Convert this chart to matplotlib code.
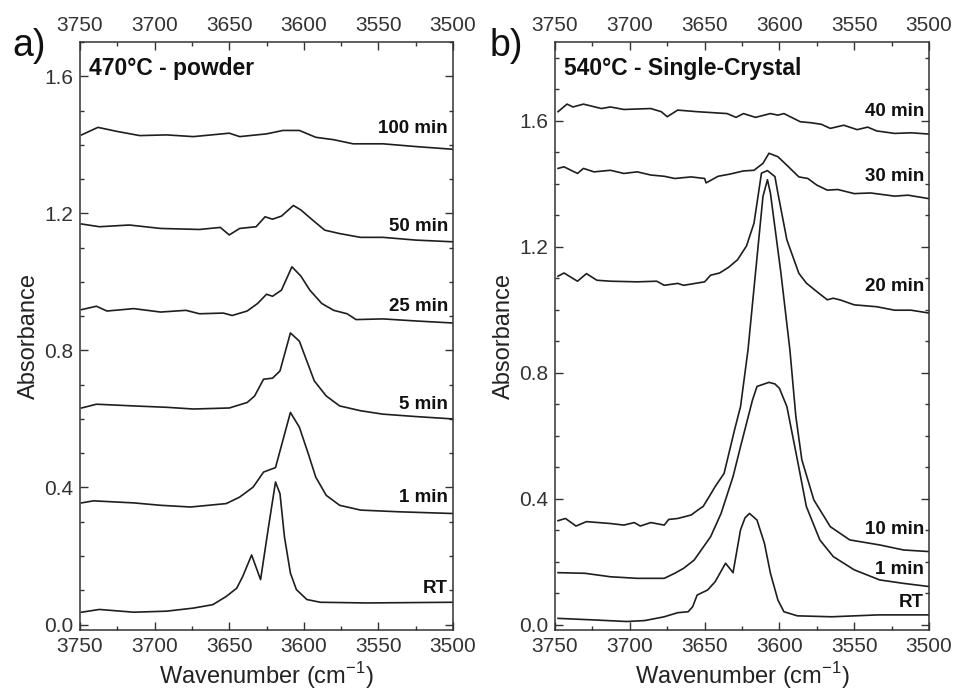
import matplotlib
matplotlib.use("Agg")
import matplotlib.pyplot as plt
from matplotlib.ticker import MultipleLocator

plt.rcParams["font.family"] = ["Liberation Sans", "DejaVu Sans"]
plt.rcParams["mathtext.fontset"] = "custom"
plt.rcParams["mathtext.rm"] = "Liberation Sans"

# ---- panel a) 470 C powder ----
a_100_x = [3749, 3738, 3725, 3710, 3692, 3674, 3650, 3643, 3625, 3614, 3603, 3592, 3580, 3567, 3547, 3525, 3500]
a_100_y = [1.429, 1.451, 1.439, 1.427, 1.429, 1.424, 1.434, 1.424, 1.432, 1.442, 1.442, 1.422, 1.415, 1.403, 1.403, 1.395, 1.387]

a_50_x = [3749, 3737, 3717, 3696, 3670, 3656, 3650, 3643, 3632, 3626, 3621, 3615, 3607, 3602, 3594, 3586, 3576, 3562, 3547, 3525, 3500]
a_50_y = [1.169, 1.161, 1.166, 1.156, 1.153, 1.159, 1.137, 1.156, 1.161, 1.190, 1.183, 1.192, 1.223, 1.210, 1.180, 1.151, 1.141, 1.130, 1.130, 1.122, 1.117]

a_25_x = [3749, 3739, 3732, 3714, 3696, 3679, 3670, 3654, 3648, 3638, 3631, 3625, 3621, 3615, 3608, 3602, 3596, 3588, 3580, 3571, 3565, 3547, 3525, 3500]
a_25_y = [0.919, 0.929, 0.915, 0.922, 0.912, 0.917, 0.907, 0.909, 0.902, 0.915, 0.937, 0.964, 0.958, 0.976, 1.044, 1.017, 0.976, 0.937, 0.917, 0.907, 0.890, 0.892, 0.886, 0.880]

a_5_x = [3749, 3739, 3714, 3692, 3674, 3650, 3638, 3633, 3627, 3621, 3616, 3609, 3603, 3598, 3593, 3585, 3576, 3562, 3547, 3525, 3500]
a_5_y = [0.632, 0.643, 0.638, 0.634, 0.629, 0.632, 0.648, 0.667, 0.716, 0.719, 0.740, 0.851, 0.827, 0.769, 0.711, 0.667, 0.638, 0.624, 0.614, 0.607, 0.600]

a_1_x = [3749, 3741, 3714, 3696, 3676, 3652, 3643, 3634, 3627, 3619, 3609, 3603, 3597, 3592, 3585, 3576, 3562, 3536, 3500]
a_1_y = [0.355, 0.361, 0.355, 0.348, 0.343, 0.353, 0.372, 0.401, 0.445, 0.458, 0.619, 0.576, 0.498, 0.430, 0.377, 0.348, 0.334, 0.329, 0.324]

a_rt_x = [3749, 3737, 3714, 3692, 3674, 3661, 3652, 3645, 3641, 3635, 3629, 3624, 3619, 3616, 3613, 3609, 3605, 3598, 3589, 3558, 3500]
a_rt_y = [0.036, 0.044, 0.036, 0.039, 0.048, 0.058, 0.082, 0.106, 0.140, 0.203, 0.131, 0.276, 0.416, 0.382, 0.256, 0.150, 0.102, 0.073, 0.065, 0.063, 0.065]

# ---- panel b) 540 C single crystal ----
b_40_x = [3748, 3742, 3738, 3731, 3719, 3713, 3704, 3686, 3679, 3675, 3668, 3655, 3635, 3629, 3624, 3616, 3606, 3601, 3597, 3586, 3579, 3572, 3566, 3557, 3548, 3541, 3535, 3523, 3512, 3500]
b_40_y = [1.629, 1.653, 1.644, 1.653, 1.639, 1.644, 1.636, 1.639, 1.629, 1.613, 1.634, 1.629, 1.623, 1.611, 1.623, 1.611, 1.623, 1.618, 1.623, 1.597, 1.594, 1.589, 1.576, 1.586, 1.572, 1.580, 1.568, 1.560, 1.562, 1.558]

b_30_x = [3748, 3744, 3735, 3731, 3724, 3713, 3704, 3695, 3686, 3677, 3670, 3659, 3650, 3649, 3641, 3633, 3624, 3617, 3611, 3607, 3601, 3595, 3587, 3581, 3575, 3568, 3561, 3550, 3539, 3523, 3514, 3500]
b_30_y = [1.449, 1.454, 1.433, 1.449, 1.438, 1.443, 1.433, 1.438, 1.428, 1.424, 1.417, 1.422, 1.417, 1.403, 1.424, 1.431, 1.441, 1.443, 1.465, 1.497, 1.486, 1.459, 1.422, 1.417, 1.396, 1.380, 1.382, 1.369, 1.371, 1.361, 1.364, 1.353]

b_20_x = [3748, 3744, 3735, 3729, 3722, 3713, 3695, 3682, 3677, 3668, 3664, 3650, 3646, 3640, 3634, 3628, 3622, 3617, 3612, 3608, 3603, 3601, 3595, 3587, 3582, 3575, 3568, 3564, 3559, 3550, 3535, 3523, 3512, 3500]
b_20_y = [1.107, 1.117, 1.091, 1.115, 1.094, 1.091, 1.089, 1.091, 1.078, 1.084, 1.078, 1.089, 1.110, 1.117, 1.135, 1.159, 1.203, 1.275, 1.434, 1.442, 1.423, 1.370, 1.222, 1.116, 1.085, 1.058, 1.032, 1.037, 1.031, 1.016, 1.010, 0.999, 0.999, 0.990]

b_10_x = [3748, 3743, 3736, 3729, 3713, 3704, 3697, 3693, 3686, 3677, 3674, 3668, 3659, 3653, 3651, 3647, 3643, 3637, 3630, 3626, 3621, 3616, 3611, 3608, 3606, 3599, 3593, 3589, 3585, 3577, 3566, 3553, 3533, 3517, 3500]
b_10_y = [0.331, 0.338, 0.314, 0.328, 0.322, 0.317, 0.325, 0.314, 0.325, 0.317, 0.335, 0.338, 0.349, 0.370, 0.376, 0.407, 0.439, 0.481, 0.619, 0.693, 0.873, 1.117, 1.360, 1.413, 1.370, 1.117, 0.873, 0.661, 0.524, 0.397, 0.312, 0.270, 0.254, 0.238, 0.233]

b_1_x = [3748, 3730, 3713, 3695, 3677, 3670, 3664, 3657, 3653, 3646, 3639, 3631, 3626, 3622, 3618, 3615, 3607, 3603, 3600, 3595, 3588, 3582, 3573, 3564, 3550, 3533, 3517, 3500]
b_1_y = [0.166, 0.164, 0.153, 0.148, 0.148, 0.164, 0.180, 0.206, 0.233, 0.280, 0.354, 0.471, 0.566, 0.640, 0.714, 0.757, 0.770, 0.765, 0.751, 0.693, 0.524, 0.376, 0.270, 0.217, 0.175, 0.143, 0.132, 0.122]

b_rt_x = [3748, 3724, 3702, 3690, 3677, 3668, 3661, 3658, 3655, 3648, 3643, 3636, 3631, 3626, 3623, 3620, 3615, 3610, 3606, 3601, 3597, 3588, 3565, 3534, 3500]
b_rt_y = [0.021, 0.016, 0.011, 0.014, 0.026, 0.039, 0.042, 0.058, 0.095, 0.111, 0.137, 0.196, 0.166, 0.302, 0.340, 0.354, 0.333, 0.259, 0.164, 0.079, 0.042, 0.029, 0.026, 0.032, 0.032]

a_curves = [
    (a_100_x, a_100_y, "100 min", 1.449),
    (a_50_x, a_50_y, "50 min", 1.161),
    (a_25_x, a_25_y, "25 min", 0.927),
    (a_5_x, a_5_y, "5 min", 0.643),
    (a_1_x, a_1_y, "1 min", 0.372),
    (a_rt_x, a_rt_y, "RT", 0.106),
]
b_curves = [
    (b_40_x, b_40_y, "40 min", 1.631),
    (b_30_x, b_30_y, "30 min", 1.422),
    (b_20_x, b_20_y, "20 min", 1.073),
    (b_10_x, b_10_y, "10 min", 0.303),
    (b_1_x, b_1_y, "1 min", 0.177),
    (b_rt_x, b_rt_y, "RT", 0.071),
]

LINE = "#1e1e1e"
GRAY = "#333333"

fig = plt.figure(figsize=(9.54, 6.95), dpi=100)
ax_a = fig.add_axes([0.0839, 0.0935, 0.391, 0.846])
ax_b = fig.add_axes([0.5818, 0.0935, 0.392, 0.846])


def montar_painel(ax, curvas, titulo, letra, ymax, letra_x):
    for x, y, rotulo, y_rot in curvas:
        ax.plot(x, y, color=LINE, linewidth=1.2)
        ax.text(3503.5, y_rot, rotulo, ha="right", va="center",
                fontsize=13.5, fontweight="bold", color="#111111")

    ax.set_xlim(3750, 3500)
    ax.set_ylim(-0.016, ymax)

    ax.xaxis.set_major_locator(MultipleLocator(50))
    ax.xaxis.set_minor_locator(MultipleLocator(25))
    ax.yaxis.set_major_locator(MultipleLocator(0.4))
    ax.yaxis.set_minor_locator(MultipleLocator(0.1))
    ax.yaxis.set_major_formatter(plt.FuncFormatter(lambda v, p: f"{v:.1f}"))

    ax.tick_params(which="both", direction="in", top=True, right=True,
                   labeltop=True, labelsize=15, colors=GRAY, pad=5)
    ax.tick_params(which="major", length=6, width=1)
    ax.tick_params(which="minor", length=3, width=1)

    for sp in ax.spines.values():
        sp.set_color(GRAY)
        sp.set_linewidth(1.1)

    ax.set_xlabel("Wavenumber (cm$^{-1}$)", fontsize=17, color="#222222", labelpad=3)
    ax.set_ylabel("Absorbance", fontsize=17, color="#222222", labelpad=3)

    ax.text(0.025, 0.975, titulo, transform=ax.transAxes, ha="left", va="top",
            fontsize=16.5, fontweight="bold", color="#111111")
    ax.text(letra_x, 0.993, letra, transform=ax.transAxes, ha="left", va="center",
            fontsize=27, color="#111111")


montar_painel(ax_a, a_curves, "470°C - powder", "a)", 1.70, -0.182)
montar_painel(ax_b, b_curves, "540°C - Single-Crystal", "b)", 1.85, -0.176)

fig.savefig("out.png", dpi=100)
